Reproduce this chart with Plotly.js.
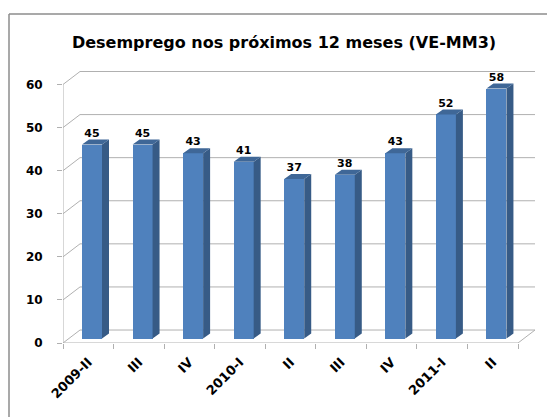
<!DOCTYPE html>
<html><head><meta charset="utf-8">
<script src="https://cdn.plot.ly/plotly-3.0.1.min.js"></script>
<style>html,body{margin:0;padding:0;background:#fff;}#chart{width:547px;height:417px;}</style>
</head><body><div id="chart"></div>
<script>
// ---- data ----
const categories = ["2009-II","III","IV","2010-I","II","III","IV","2011-I","II"];
const values = [45,45,43,41,37,38,43,52,58];
const yTicks = [0,10,20,30,40,50,60];
const titleText = "Desemprego nos próximos 12 meses (VE-MM3)";

// ---- geometry (pixels) ----
const W=547, H=417;
const L=63, frontRight=518, depthPx=17, depthPy=13;
const R=frontRight+depthPx;
const B=343.5, top60=84.5, T=71;
const n=categories.length;
const pxPerCat=(frontRight-L)/n;
const pxPerUnit=(B-top60)/60;
const xMin=-0.5, xMax=xMin+(R-L)/pxPerCat;
const yMax=(B-T)/pxPerUnit;
const wallDx=depthPx/pxPerCat, wallDy=depthPy/pxPerUnit;
const barLeftOff=(82-63)/pxPerCat-0.5, barW=20/pxPerCat;
const sideDx=7/pxPerCat, sideDy=5/pxPerUnit;
const barBase=(B-339)/pxPerUnit;
const font="'DejaVu Sans', 'Noto Sans', sans-serif";
const grid="#b0b0b0";

const xs=categories.map((c,i)=>i);
// front faces
const front={type:'bar', x:xs.map(i=>i+barLeftOff+barW/2), y:values, base:values.map(()=>barBase),
  width:barW, marker:{color:'#4F81BD', line:{width:0}}, hoverinfo:'skip', showlegend:false};
// side and top faces
const sx=[], sy=[], tx=[], ty=[];
values.forEach((v,i)=>{
  const xl=i+barLeftOff, xr=xl+barW, b=barBase, t=barBase+v;
  sx.push(xr,xr,xr+sideDx,xr+sideDx,xr,null);
  sy.push(b,t,t+sideDy,b+sideDy,b,null);
  tx.push(xl,xr,xr+sideDx,xl+sideDx,xl,null);
  ty.push(t,t,t+sideDy,t+sideDy,t,null);
});
const side={type:'scatter', mode:'lines', x:sx, y:sy, fill:'toself', fillcolor:'#375B86',
  line:{width:0,color:'#375B86'}, hoverinfo:'skip', showlegend:false};
const topF={type:'scatter', mode:'lines', x:tx, y:ty, fill:'toself', fillcolor:'#3F6797',
  line:{width:0,color:'#3F6797'}, hoverinfo:'skip', showlegend:false};
const labels={type:'scatter', mode:'text', x:xs.map(i=>i+barLeftOff+barW/2),
  y:values.map(v=>v+barBase+sideDy), text:values.map(String), textposition:'top center',
  textfont:{family:font, size:11, color:'#000', weight:700}, cliponaxis:false, hoverinfo:'skip', showlegend:false};

// walls / grid shapes
const shapes=[];
const ln=(x0,y0,x1,y1,c)=>({type:'line',xref:'x',yref:'y',x0,y0,x1,y1,layer:'below',line:{color:c||grid,width:1}});
yTicks.forEach(v=>{
  shapes.push(ln(xMin+wallDx, v+wallDy, xMax, v+wallDy));
  shapes.push(ln(xMin, v, xMin+wallDx, v+wallDy));
});
shapes.push(ln(xMin,0,xMin,yTicks[yTicks.length-1]));
shapes.push(ln(xMin,0,xMin+n,0));
shapes.push(ln(xMin+n,0,xMin+n+wallDx,wallDy));
// chart frame
const px2x=p=>(p-L)/(R-L), py2y=p=>(B-p)/(B-T);
shapes.push({type:'line',xref:'paper',yref:'paper',x0:px2x(9),y0:py2y(14),x1:px2x(9),y1:py2y(420),line:{color:'#8c8c8c',width:1.5}});
shapes.push({type:'line',xref:'paper',yref:'paper',x0:px2x(9),y0:py2y(14),x1:px2x(550),y1:py2y(14),line:{color:'#8c8c8c',width:1.5}});

const layout={
  width:W, height:H, margin:{l:L, r:W-R, t:T, b:H-B}, paper_bgcolor:'#fff', plot_bgcolor:'rgba(0,0,0,0)',
  title:{text:titleText, font:{family:font,size:16,color:'#000',weight:700}, xref:'container', yref:'container', x:284/W, y:1-42/H, xanchor:'center', yanchor:'middle'},
  xaxis:{range:[xMin,xMax], tickvals:xs, ticktext:categories, tickangle:-45, ticks:'', showgrid:false, zeroline:false, showline:false,
    tickfont:{family:font,size:13,color:'#000',weight:700}, ticklabelstandoff:8,
    minor:{ticks:'outside', ticklen:5, tickcolor:grid, tick0:-0.5, dtick:1, showgrid:false}},
  yaxis:{range:[0,yMax], tickvals:yTicks, ticks:'outside', ticklen:5, tickcolor:grid, showgrid:false, zeroline:false, showline:false,
    tickfont:{family:font,size:12,color:'#000',weight:700}, ticklabelstandoff:12},
  shapes, showlegend:false, bargap:0
};
Plotly.newPlot('chart',[front,side,topF,labels],layout,{staticPlot:true});
</script></body></html>
